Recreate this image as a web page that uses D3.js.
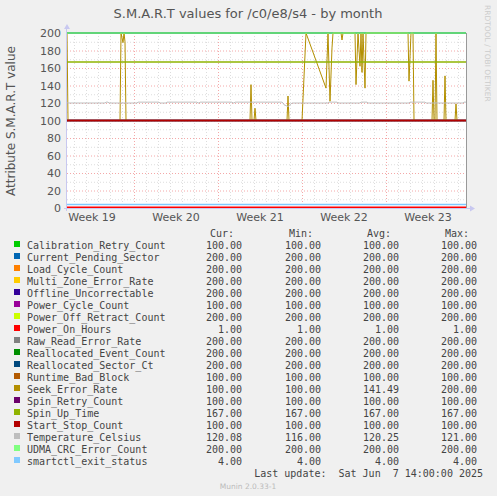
<!DOCTYPE html>
<meta charset="utf-8">
<style>
  body { margin: 0; background: #f0f0f0; }
  text { font-family: "DejaVu Sans", sans-serif; }
  .mono { font-family: "DejaVu Sans Mono", monospace; font-size: 10px; fill: #444; }
</style>
<svg id="chart" width="497" height="496"></svg>
<script src="https://cdn.jsdelivr.net/npm/d3@7"></script>
<script>
  // series names, colours and summary values (cur, min, avg, max)
  var names = ['Calibration_Retry_Count', 'Current_Pending_Sector', 'Load_Cycle_Count',
    'Multi_Zone_Error_Rate', 'Offline_Uncorrectable', 'Power_Cycle_Count',
    'Power_Off_Retract_Count', 'Power_On_Hours', 'Raw_Read_Error_Rate',
    'Reallocated_Event_Count', 'Reallocated_Sector_Ct', 'Runtime_Bad_Block',
    'Seek_Error_Rate', 'Spin_Retry_Count', 'Spin_Up_Time', 'Start_Stop_Count',
    'Temperature_Celsius', 'UDMA_CRC_Error_Count', 'smartctl_exit_status'];
  var colors = ['#00CC00', '#0066B3', '#FF8000', '#FFCC00', '#330099', '#990099',
    '#CCFF00', '#FF0000', '#808080', '#008F00', '#00487D', '#B35A00', '#B38F00',
    '#6B006B', '#8FB300', '#B30000', '#BEBEBE', '#80FF80', '#80C9FF'];
  var cur = [100, 200, 200, 200, 200, 100, 200, 1, 200, 200, 200, 100, 100, 100, 167, 100, 120.08, 200, 4];
  var min = [100, 200, 200, 200, 200, 100, 200, 1, 200, 200, 200, 100, 100, 100, 167, 100, 116, 200, 4];
  var avg = [100, 200, 200, 200, 200, 100, 200, 1, 200, 200, 200, 100, 141.49, 100, 167, 100, 120.25, 200, 4];
  var max = [100, 200, 200, 200, 200, 100, 200, 1, 200, 200, 200, 100, 200, 100, 167, 100, 121, 200, 4];

  // hours since start of graph, for the two series that move
  var seekHours = [0, 2, 106, 108, 112, 114, 116, 118, 366, 368, 370, 374, 376, 378, 440, 442, 444,
    470, 478, 518, 522, 526, 530, 532, 548, 550, 552, 576, 578, 582, 586, 588, 590, 592, 596, 598,
    682, 684, 688, 692, 694, 730, 732, 734, 736, 738, 740, 754, 756, 758, 776, 778, 780, 798];
  var seekValues = [200, 100, 100, 200, 189, 200, 190, 100, 100, 141, 100, 100, 114, 100, 100, 128, 100,
    100, 200, 137, 200, 122, 183, 200, 200, 192, 200, 200, 141, 200, 162, 200, 155, 200, 137, 200,
    200, 145, 200, 200, 100, 100, 146, 100, 100, 200, 100, 100, 151, 100, 100, 119, 100, 100];
  var tempHours = [0, 76, 78, 82, 84, 140, 142, 184, 186, 198, 200, 260, 262, 264, 266, 330, 332, 334,
    336, 430, 432, 434, 438, 442, 446, 448, 450, 522, 524, 540, 542, 586, 588, 600, 602, 684, 686,
    716, 718, 792, 794, 798];
  var tempValues = [120, 120, 121, 121, 120, 120, 121, 121, 120, 120, 121, 121, 120, 120, 121, 121, 120, 120,
    121, 121, 120, 118, 117, 116, 118, 119, 120, 120, 121, 121, 120, 120, 121, 121, 120, 120, 121,
    121, 120, 120, 121, 121];
  var weeks = ['Week 19', 'Week 20', 'Week 21', 'Week 22', 'Week 23'];
  var weekStarts = ['2025-05-05', '2025-05-12', '2025-05-19', '2025-05-26', '2025-06-02', '2025-06-09'];

  var startDate = new Date('2025-05-06T10:00:00');
  var endDate = new Date(startDate.getTime() + 798 * 3600e3);
  var hrs = function(h) { return new Date(startDate.getTime() + h * 3600e3); };

  var svg = d3.select('#chart');
  var pLeft = 67, pRight = 466, pTop = 33, pBottom = 208;
  var x = d3.scaleTime().domain([startDate, endDate]).range([pLeft, pRight]);
  var y = d3.scaleLinear().domain([0, 200]).range([pBottom, pTop]);

  svg.append('rect').attr('x', pLeft).attr('y', pTop).attr('width', pRight - pLeft).attr('height', pBottom - pTop).attr('fill', '#fff');

  // grid
  var g = svg.append('g');
  d3.range(0, 201, 10).forEach(function(v) {
    g.append('line').attr('x1', pLeft).attr('x2', pRight).attr('y1', y(v) + .5).attr('y2', y(v) + .5)
      .attr('stroke', v % 20 ? '#ddd' : '#f4a8a8').attr('stroke-dasharray', '1,2');
  });
  d3.timeDay.range(startDate, endDate).forEach(function(d) {
    var isWeek = weekStarts.some(function(w) { return +new Date(w + 'T00:00:00') === +d; });
    g.append('line').attr('x1', Math.round(x(d)) + .5).attr('x2', Math.round(x(d)) + .5).attr('y1', pTop).attr('y2', pBottom)
      .attr('stroke', isWeek ? '#f4a8a8' : '#ddd').attr('stroke-dasharray', '1,2');
  });

  // series
  var line = d3.line().x(function(p) { return x(hrs(p[0])); }).y(function(p) { return y(p[1]); });
  names.forEach(function(n, i) {
    var pts;
    if (n === 'Seek_Error_Rate') pts = seekHours.map(function(h, j) { return [h, seekValues[j]]; });
    else if (n === 'Temperature_Celsius') pts = tempHours.map(function(h, j) { return [h, tempValues[j]]; });
    else pts = [[0, cur[i]], [798, cur[i]]];
    svg.append('path').attr('d', line(pts)).attr('fill', 'none').attr('stroke', colors[i])
      .attr('stroke-width', n === 'Seek_Error_Rate' || n === 'Temperature_Celsius' ? 1 : 1.5);
  });

  // frame
  svg.append('line').attr('x1', pRight + .5).attr('x2', pRight + .5).attr('y1', pTop).attr('y2', pBottom).attr('stroke', '#999');
  svg.append('line').attr('x1', pLeft - .5).attr('x2', pLeft - .5).attr('y1', pTop - 5).attr('y2', pBottom + 3).attr('stroke', '#c8c8f0');
  svg.append('line').attr('x1', pLeft - 3).attr('x2', pRight + 5).attr('y1', pBottom + .5).attr('y2', pBottom + .5).attr('stroke', '#c8c8f0');
  svg.append('path').attr('d', 'M' + (pLeft - 3) + ',' + (pTop - 4) + 'l3,-5l3,5z').attr('fill', '#c8c8f0');
  svg.append('path').attr('d', 'M' + (pRight + 4) + ',' + (pBottom - 2.5) + 'l5,3l-5,3z').attr('fill', '#c8c8f0');

  // axes
  var yAxis = svg.append('g').attr('transform', 'translate(' + (pLeft - 6) + ',0)')
    .call(d3.axisLeft(y).tickValues(d3.range(0, 201, 20)).tickSize(0).tickPadding(0));
  yAxis.select('.domain').remove();
  yAxis.selectAll('text').attr('fill', '#555').style('font-size', '11px').style('font-family', 'DejaVu Sans');
  weeks.forEach(function(w, i) {
    var a = new Date(weekStarts[i] + 'T00:00:00'), b = new Date(weekStarts[i + 1] + 'T00:00:00');
    svg.append('text').attr('x', (x(a) + x(b)) / 2).attr('y', 221).attr('text-anchor', 'middle')
      .attr('fill', '#555').style('font-size', '11px').text(w);
  });

  svg.append('text').attr('x', 248).attr('y', 18).attr('text-anchor', 'middle').attr('fill', '#555')
    .style('font-size', '13px').text('S.M.A.R.T values for /c0/e8/s4 - by month');
  svg.append('text').attr('transform', 'translate(15,121) rotate(-90)').attr('text-anchor', 'middle')
    .attr('fill', '#555').style('font-size', '12px').text('Attribute S.M.A.R.T value');
  svg.append('text').attr('transform', 'translate(485,5) rotate(90)').attr('fill', '#ccc')
    .style('font-size', '7.5px').text('RRDTOOL / TOBI OETIKER');

  // legend
  var cols = [242, 321, 399, 477];
  ['Cur:', 'Min:', 'Avg:', 'Max:'].forEach(function(h, i) {
    svg.append('text').attr('class', 'mono').attr('x', cols[i] - 8).attr('y', 237).attr('text-anchor', 'end').text(h);
  });
  names.forEach(function(n, i) {
    var yy = 245 + i * 12;
    svg.append('rect').attr('x', 14).attr('y', yy - 4).attr('width', 6).attr('height', 6).attr('fill', colors[i]);
    svg.append('text').attr('class', 'mono').attr('x', 27).attr('y', yy + 4).text(n);
    [cur, min, avg, max].forEach(function(arr, k) {
      svg.append('text').attr('class', 'mono').attr('x', cols[k]).attr('y', yy + 4).attr('text-anchor', 'end')
        .text(arr[i].toFixed(2));
    });
  });
  svg.append('text').attr('class', 'mono').attr('x', 483).attr('y', 477).attr('text-anchor', 'end')
    .text('Last update:  Sat Jun  7 14:00:00 2025').style('white-space', 'pre');
  svg.append('text').attr('x', 248).attr('y', 489).attr('text-anchor', 'middle').attr('fill', '#bbb')
    .style('font-size', '7.5px').text('Munin 2.0.33-1');
</script>
